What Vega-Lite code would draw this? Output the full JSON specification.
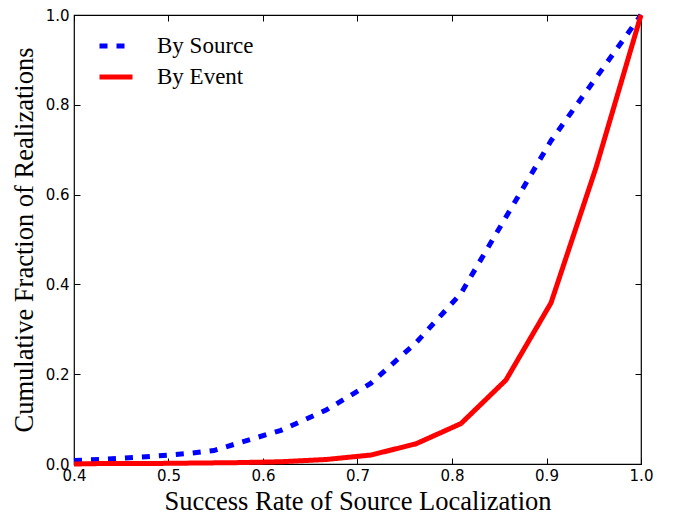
{
  "$schema": "https://vega.github.io/schema/vega-lite/v6.json",
  "width": 567,
  "height": 449,
  "autosize": "none",
  "padding": {"left": 74, "top": 15, "right": 39, "bottom": 52},
  "background": "white",
  "config": {
    "view": {"stroke": "black", "strokeWidth": 1.2},
    "axis": {
      "domain": false,
      "grid": false,
      "ticks": true,
      "tickSize": -6,
      "tickColor": "black",
      "tickWidth": 1,
      "labelFont": "DejaVu Sans",
      "labelFontSize": 15,
      "labelColor": "black",
      "labelFlush": false,
      "titleFont": "Liberation Serif",
      "titleFontSize": 26.5,
      "titleFontWeight": "normal",
      "titleColor": "black"
    }
  },
  "data": {
    "values": [
      {"x": 0.4, "y": 0.008, "series": "By Source"},
      {"x": 0.4286, "y": 0.01, "series": "By Source"},
      {"x": 0.4762, "y": 0.016, "series": "By Source"},
      {"x": 0.5238, "y": 0.024, "series": "By Source"},
      {"x": 0.548, "y": 0.03, "series": "By Source"},
      {"x": 0.5714, "y": 0.045, "series": "By Source"},
      {"x": 0.619, "y": 0.075, "series": "By Source"},
      {"x": 0.6667, "y": 0.12, "series": "By Source"},
      {"x": 0.7143, "y": 0.18, "series": "By Source"},
      {"x": 0.7619, "y": 0.27, "series": "By Source"},
      {"x": 0.8095, "y": 0.38, "series": "By Source"},
      {"x": 0.8571, "y": 0.55, "series": "By Source"},
      {"x": 0.9048, "y": 0.72, "series": "By Source"},
      {"x": 0.9524, "y": 0.86, "series": "By Source"},
      {"x": 1.0, "y": 1.0, "series": "By Source"},
      {"x": 0.4, "y": 0.0, "series": "By Event"},
      {"x": 0.4286, "y": 0.001, "series": "By Event"},
      {"x": 0.4762, "y": 0.001, "series": "By Event"},
      {"x": 0.5238, "y": 0.002, "series": "By Event"},
      {"x": 0.5714, "y": 0.003, "series": "By Event"},
      {"x": 0.619, "y": 0.005, "series": "By Event"},
      {"x": 0.6667, "y": 0.01, "series": "By Event"},
      {"x": 0.7143, "y": 0.02, "series": "By Event"},
      {"x": 0.7619, "y": 0.045, "series": "By Event"},
      {"x": 0.8095, "y": 0.09, "series": "By Event"},
      {"x": 0.8571, "y": 0.187, "series": "By Event"},
      {"x": 0.9048, "y": 0.359, "series": "By Event"},
      {"x": 0.9524, "y": 0.66, "series": "By Event"},
      {"x": 1.0, "y": 1.0, "series": "By Event"}
    ]
  },
  "layer": [
    {
      "mark": {"type": "line", "strokeWidth": 5, "strokeCap": "butt", "clip": false},
      "encoding": {
        "x": {
          "field": "x", "type": "quantitative",
          "scale": {"domain": [0.4, 1.0], "nice": false, "zero": false},
          "axis": {"values": [0.4, 0.5, 0.6, 0.7, 0.8, 0.9, 1.0], "format": ".1f", "title": "Success Rate of Source Localization", "labelFont": "DejaVu Sans", "labelFontSize": 15, "labelPadding": 10, "titlePadding": 5}
        },
        "y": {
          "field": "y", "type": "quantitative",
          "scale": {"domain": [0, 1], "nice": false},
          "axis": {"values": [0, 0.2, 0.4, 0.6, 0.8, 1.0], "format": ".1f", "title": "Cumulative Fraction of Realizations", "labelFont": "DejaVu Sans", "labelFontSize": 15, "labelPadding": 11, "titlePadding": 7}
        },
        "color": {
          "field": "series", "type": "nominal",
          "scale": {"domain": ["By Source", "By Event"], "range": ["#0000ff", "#ff0000"]},
          "legend": {
            "orient": "none", "legendX": 23, "legendY": 12, "title": null, "padding": 0,
            "symbolType": "stroke", "symbolSize": 1089, "symbolStrokeWidth": 5,
            "labelFont": "Liberation Serif", "labelFontSize": 23, "labelColor": "black",
            "labelOffset": 22, "rowPadding": 0
          }
        },
        "strokeDash": {
          "field": "series", "type": "nominal",
          "scale": {"domain": ["By Source", "By Event"], "range": [[8, 9], [1, 0]]},
          "legend": {
            "orient": "none", "legendX": 23, "legendY": 12, "title": null, "padding": 0,
            "symbolType": "stroke", "symbolSize": 1089, "symbolStrokeWidth": 5,
            "labelFont": "Liberation Serif", "labelFontSize": 23, "labelColor": "black",
            "labelOffset": 22, "rowPadding": 0
          }
        }
      }
    },
    {
      "mark": {"type": "line", "opacity": 0},
      "encoding": {
        "x": {
          "field": "x", "type": "quantitative",
          "axis": {"orient": "top", "values": [0.4, 0.5, 0.6, 0.7, 0.8, 0.9, 1.0], "labels": false, "title": null}
        },
        "y": {
          "field": "y", "type": "quantitative",
          "axis": {"orient": "right", "values": [0, 0.2, 0.4, 0.6, 0.8, 1.0], "labels": false, "title": null}
        }
      }
    }
  ],
  "resolve": {"axis": {"x": "independent", "y": "independent"}}
}
